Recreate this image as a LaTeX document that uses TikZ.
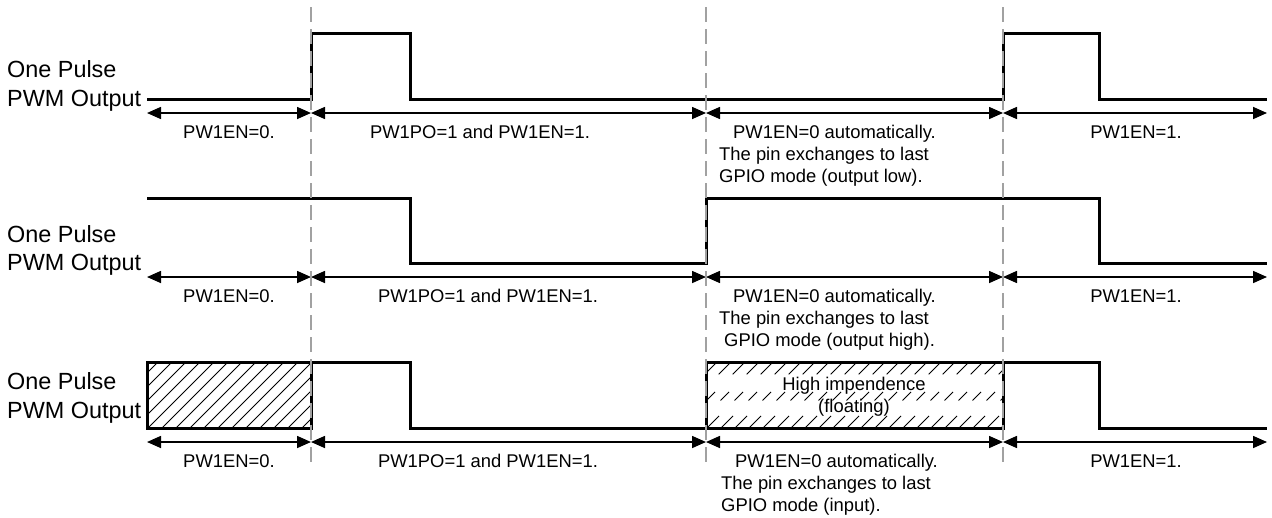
\documentclass[tikz,border=0pt]{standalone}
\usepackage{fontspec}
\setmainfont{Liberation Sans}
\usetikzlibrary{arrows.meta}
\begin{document}
\begin{tikzpicture}[x=1pt,y=-1pt,
  sig/.style={line width=3pt, line join=miter, line cap=butt},
  dimarrow/.style={line width=1.6pt, {Triangle[length=14pt,width=12pt]}-{Triangle[length=14pt,width=12pt]}},
  guide/.style={draw=black!37, line width=2.6pt, dash pattern=on 15pt off 7pt},
  lbl/.style={font=\fontsize{23.4}{29}\selectfont, anchor=base west, inner sep=0pt},
  txt/.style={font=\fontsize{18.4}{22}\selectfont, anchor=base, inner sep=0pt},
  txtl/.style={font=\fontsize{18.4}{22}\selectfont, anchor=base west, inner sep=0pt},
  hatchline/.style={line width=1pt},
  hatchdash/.style={line width=1pt, dash pattern=on 17pt off 22pt on 12pt off 25pt on 17pt off 0pt},
]
\useasboundingbox (0,0) rectangle (1272,517);

% ---------- labels ----------
\node[lbl] (l1a) at (7,77) {One Pulse};
\node[lbl] (l1b) at (7,106) {PWM Output};
\node[lbl] (l2a) at (7,242) {One Pulse};
\node[lbl] (l2b) at (7,270) {PWM Output};
\node[lbl] (l3a) at (7,389) {One Pulse};
\node[lbl] (l3b) at (7,418) {PWM Output};

% ---------- row 1 signal ----------
\draw[sig] (147,99) -- (311,99) -- (311,33) -- (410,33) -- (410,99) -- (1003,99) -- (1003,33) -- (1099,33) -- (1099,99) -- (1267,99);

% ---------- row 2 signal ----------
\draw[sig] (147,198) -- (410,198) -- (410,263) -- (706,263) -- (706,198) -- (1099,198) -- (1099,263) -- (1267,263);

% ---------- row 3 signal ----------
\begin{scope}
  \clip (147,362) rectangle (311,428);
  \foreach \k in {0,...,18} \draw[hatchline] ({78+14*\k},428) -- ++(66,-66);
\end{scope}
\begin{scope}
  \clip (706,362) rectangle (1003,428);
  \foreach \k in {0,...,26} \draw[hatchdash] ({637+14*\k},428) -- ++(66,-66);
\end{scope}
\draw[sig] (147,362) rectangle (311,428);
\draw[sig] (311,362) -- (410,362) -- (410,428) -- (706,428);
\draw[sig] (706,362) rectangle (1003,428);
\draw[sig] (1003,362) -- (1099,362) -- (1099,428) -- (1267,428);
\node[txt] (hz1) at (854,390) {High impendence};
\node[txt] (hz2) at (854,412) {(floating)};

% ---------- dimension arrows ----------
\foreach \r/\y in {1/113, 2/277, 3/442} {
  \coordinate (a\r) at (147,\y);
  \coordinate (b\r) at (311,\y);
  \coordinate (c\r) at (706,\y);
  \coordinate (d\r) at (1003,\y);
  \coordinate (e\r) at (1267,\y);
  \draw[dimarrow] (a\r) -- (b\r);
  \draw[dimarrow] (b\r) -- (c\r);
  \draw[dimarrow] (c\r) -- (d\r);
  \draw[dimarrow] (d\r) -- (e\r);
}

% ---------- row 1 texts ----------
\node[txt] (t1a) at (229,138) {PW1EN=0.};
\node[txt] (t1b) at (480,138) {PW1PO=1 and PW1EN=1.};
\node[txtl] (t1c) at (733,138) {PW1EN=0 automatically.};
\node[txtl] (t1d) at (719,160) {The pin exchanges to last};
\node[txtl] (t1e) at (719,182) {GPIO mode (output low).};
\node[txt] (t1f) at (1136,138) {PW1EN=1.};

% ---------- row 2 texts ----------
\node[txt] (t2a) at (229,302) {PW1EN=0.};
\node[txt] (t2b) at (488,302) {PW1PO=1 and PW1EN=1.};
\node[txtl] (t2c) at (733,302) {PW1EN=0 automatically.};
\node[txtl] (t2d) at (719,324) {The pin exchanges to last};
\node[txtl] (t2e) at (724,346) {GPIO mode (output high).};
\node[txt] (t2f) at (1136,302) {PW1EN=1.};

% ---------- row 3 texts ----------
\node[txt] (t3a) at (229,467) {PW1EN=0.};
\node[txt] (t3b) at (488,467) {PW1PO=1 and PW1EN=1.};
\node[txtl] (t3c) at (735,467) {PW1EN=0 automatically.};
\node[txtl] (t3d) at (721,489) {The pin exchanges to last};
\node[txtl] (t3e) at (721,511) {GPIO mode (input).};
\node[txt] (t3f) at (1136,467) {PW1EN=1.};

% ---------- guide lines ----------
\coordinate (g1t) at (311,7);  \coordinate (g1b) at (311,462);
\coordinate (g2t) at (706,7);  \coordinate (g2b) at (706,462);
\coordinate (g3t) at (1003,7); \coordinate (g3b) at (1003,462);
\draw[guide] (g1t) -- (g1b);
\draw[guide] (g2t) -- (g2b);
\draw[guide] (g3t) -- (g3b);
\end{tikzpicture}
\end{document}
